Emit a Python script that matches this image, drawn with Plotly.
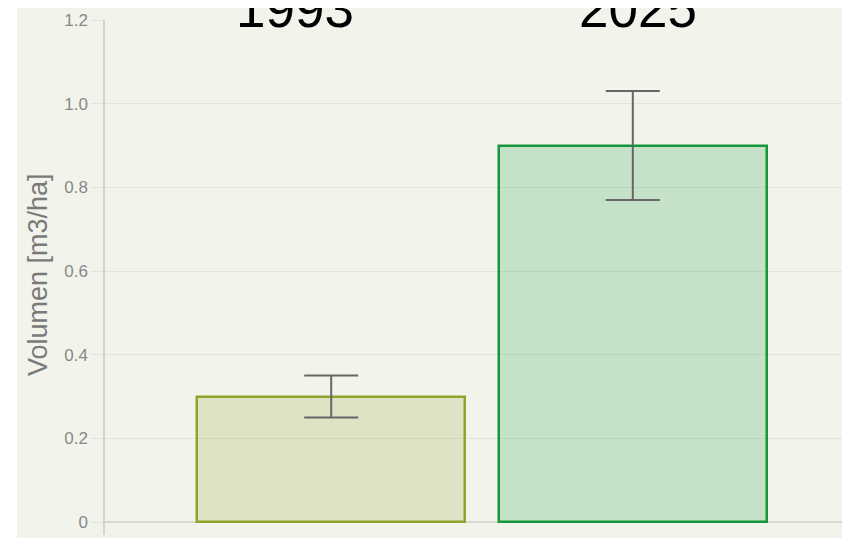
import plotly.graph_objects as go

categories = ["1993", "2025"]
values = [0.3, 0.9]
err_plus = [0.05, 0.13]
err_minus = [0.05, 0.13]
fill_colors = ["rgba(142,165,45,0.2)", "rgba(20,152,58,0.2)"]
line_colors = ["#8ea52d", "#14983a"]
y_ticks = [0, 0.2, 0.4, 0.6, 0.8, 1.0, 1.2]
y_ticktext = ["0", "0.2", "0.4", "0.6", "0.8", "1.0", "1.2"]
y_title = "Volumen [m3/ha]"

OFF = 8  # page body margin
W, H = 850 - OFF, 538 - OFF
L, R = 105 - OFF, 0
T = 20 - OFF
B = H - (535 - OFF)
pw = W - L - R
ph = H - T - B

def px_x(p):
    return (p - OFF - L) / pw

def px_y(p):
    return (H - B - (p - OFF)) / ph

fig = go.Figure()
fig.add_trace(go.Bar(
    x=categories, y=values, width=0.89,
    marker=dict(color=fill_colors, line=dict(color=line_colors, width=2.5)),
    error_y=dict(type="data", symmetric=False, array=err_plus, arrayminus=err_minus,
                 color="#666666", thickness=2, width=27),
    showlegend=False,
))

bg = "#f2f4ec"
fig.add_shape(type="rect", xref="paper", yref="paper",
              x0=px_x(17), x1=px_x(860), y0=px_y(538), y1=px_y(0),
              fillcolor=bg, line=dict(width=0), layer="below")

title_pos = [295, 638]
for cat, xp in zip(categories, title_pos):
    fig.add_annotation(text=cat, xref="paper", yref="paper", x=px_x(xp), y=px_y(9),
                       xanchor="center", yanchor="middle", showarrow=False,
                       font=dict(family="Liberation Sans, Arial", size=53, color="#000000"))

fig.add_annotation(text=y_title, xref="paper", yref="paper", x=px_x(38), y=px_y(275),
                   xanchor="center", yanchor="middle", textangle=-90, showarrow=False,
                   font=dict(family="Liberation Sans, Arial", size=27, color="#7a7a7a"))

x_span = pw / 301.6
fig.update_layout(
    width=W, height=H,
    margin=dict(l=L, r=R, t=T, b=B),
    paper_bgcolor="white", plot_bgcolor=bg,
    bargap=0,
    font=dict(family="Liberation Sans, Arial", size=17, color="#888888"),
    xaxis=dict(type="category", range=[-0.75, -0.75 + x_span], showticklabels=False,
               showgrid=False, zeroline=False, showline=False, ticks="", automargin=False),
    yaxis=dict(range=[-0.031, 1.2], tickvals=y_ticks, ticktext=y_ticktext,
               showgrid=True, gridcolor="#e1e4da", gridwidth=1,
               zeroline=True, zerolinecolor="#d6d9cf", zerolinewidth=1.5,
               showline=True, linecolor="#d3d6cb", linewidth=1.5,
               ticks="outside", ticklen=12, tickcolor="#e1e4da", automargin=False,
               tickfont=dict(size=17, color="#888888")),
)

fig.write_html("out.html")
